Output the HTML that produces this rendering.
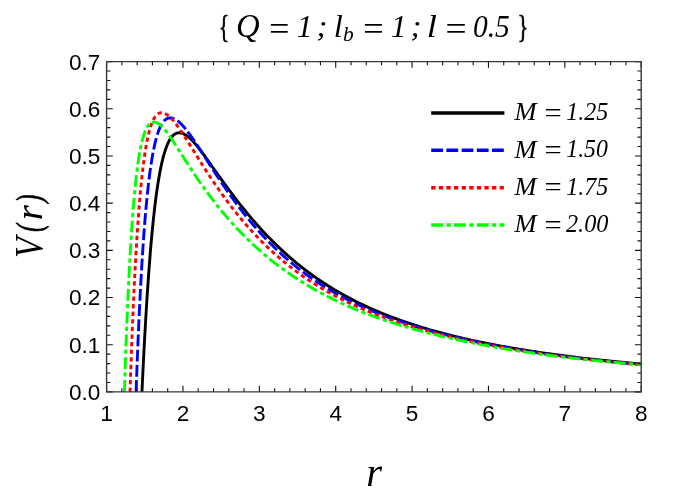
<!DOCTYPE html>
<html><head><meta charset="utf-8"><title>V(r)</title>
<style>
html,body{margin:0;padding:0;background:#fff;}
body{width:686px;height:499px;overflow:hidden;font-family:"Liberation Sans",sans-serif;}
svg{display:block;will-change:transform;}
.tk{font-family:"Liberation Sans",sans-serif;font-size:22.6px;fill:#000;}
.it{font-family:"Liberation Serif",serif;font-style:italic;fill:#000;}
</style></head><body>
<svg width="686" height="499" viewBox="0 0 686 499">
<rect width="686" height="499" fill="#fff"/>
<defs><clipPath id="cp"><rect x="106.6" y="61.6" width="534.6" height="330.3"/></clipPath></defs>
<g clip-path="url(#cp)" fill="none" stroke-width="2.9" stroke-linejoin="round">
<path d="M141.96 391.90L142.51 380.14L143.06 368.75L143.61 357.75L144.16 347.13L144.71 336.87L145.27 326.99L145.82 317.46L146.37 308.28L146.93 299.45L147.48 290.95L148.04 282.78L148.59 274.94L149.15 267.40L149.70 260.18L150.26 253.24L150.81 246.60L151.37 240.23L151.93 234.14L152.49 228.31L153.05 222.73L153.60 217.40L154.16 212.31L154.72 207.45L155.28 202.81L155.84 198.39L156.40 194.18L156.96 190.17L157.53 186.35L158.09 182.72L158.65 179.27L159.21 176.00L159.77 172.89L160.34 169.94L160.90 167.16L161.46 164.52L162.03 162.03L162.59 159.67L163.15 157.45L163.72 155.36L164.28 153.39L164.84 151.55L165.41 149.81L165.97 148.19L166.53 146.67L167.09 145.26L167.65 143.94L168.22 142.71L168.78 141.58L169.34 140.53L169.90 139.56L170.46 138.67L171.02 137.86L171.58 137.12L172.14 136.45L172.69 135.85L173.25 135.30L173.80 134.82L174.36 134.40L174.91 134.03L175.47 133.71L176.02 133.44L176.57 133.23L177.12 133.05L177.67 132.92L178.22 132.83L178.77 132.79L179.32 132.77L179.86 132.80L180.41 132.86L180.95 132.95L181.49 133.08L182.04 133.23L182.58 133.41L183.12 133.62L183.66 133.86L184.20 134.12L184.73 134.41L185.27 134.71L185.81 135.05L186.34 135.40L186.88 135.77L187.41 136.17L187.95 136.58L188.48 137.01L189.01 137.46L189.54 137.92L190.08 138.40L190.61 138.90L191.14 139.41L191.67 139.94L192.20 140.48L192.73 141.04L193.26 141.60L193.79 142.18L194.32 142.78L194.85 143.38L195.38 143.99L195.91 144.62L196.44 145.25L196.97 145.90L197.50 146.55L198.03 147.21L198.56 147.88L199.09 148.56L199.62 149.25L200.15 149.94L200.68 150.64L201.22 151.34L201.75 152.05L202.28 152.77L202.81 153.49L203.35 154.21L203.88 154.94L204.42 155.67L204.95 156.41L205.49 157.15L206.02 157.90L206.56 158.64L207.09 159.39L207.63 160.14L208.17 160.90L208.71 161.65L209.24 162.41L209.78 163.17L210.32 163.93L210.86 164.69L211.40 165.46L211.94 166.22L212.48 166.98L213.02 167.75L213.56 168.51L214.10 169.28L214.64 170.04L215.19 170.81L215.73 171.58L216.27 172.34L216.81 173.11L217.36 173.87L217.90 174.63L218.44 175.40L218.99 176.16L219.53 176.92L220.08 177.68L220.62 178.44L221.16 179.20L221.71 179.96L222.25 180.72L222.80 181.47L223.34 182.23L223.89 182.98L224.43 183.73L224.98 184.48L225.53 185.23L226.07 185.97L226.62 186.72L227.16 187.46L227.71 188.20L228.25 188.94L228.80 189.68L232.58 194.73L236.36 199.69L240.15 204.54L243.93 209.27L247.71 213.89L251.50 218.39L255.28 222.77L259.06 227.02L262.85 231.16L266.63 235.18L270.41 239.09L274.20 242.88L277.98 246.55L281.76 250.11L285.55 253.57L289.33 256.92L293.11 260.17L296.90 263.32L300.68 266.37L304.47 269.32L308.25 272.18L312.03 274.96L315.82 277.65L319.60 280.25L323.38 282.77L327.17 285.22L330.95 287.59L334.73 289.88L338.52 292.11L342.30 294.26L346.08 296.35L349.87 298.38L353.65 300.34L357.43 302.25L361.22 304.09L365.00 305.89L368.79 307.62L372.57 309.31L376.35 310.94L380.14 312.53L383.92 314.07L387.70 315.57L391.49 317.02L395.27 318.43L399.05 319.80L402.84 321.14L406.62 322.45L410.40 323.71L414.19 324.95L417.97 326.15L421.75 327.31L425.54 328.45L429.32 329.55L433.11 330.63L436.89 331.67L440.67 332.69L444.46 333.68L448.24 334.65L452.02 335.60L455.81 336.54L459.59 337.46L463.37 338.35L467.16 339.22L470.94 340.07L474.72 340.90L478.51 341.70L482.29 342.49L486.07 343.25L489.86 343.99L493.64 344.71L497.43 345.42L501.21 346.11L504.99 346.80L508.78 347.47L512.56 348.13L516.34 348.78L520.13 349.41L523.91 350.02L527.69 350.63L531.48 351.22L535.26 351.79L539.04 352.36L542.83 352.92L546.61 353.46L550.40 353.99L554.18 354.51L557.96 355.03L561.75 355.53L565.53 356.01L569.31 356.49L573.10 356.96L576.88 357.43L580.66 357.88L584.45 358.32L588.23 358.76L592.01 359.19L595.80 359.61L599.58 360.02L603.36 360.42L607.15 360.81L610.93 361.19L614.72 361.56L618.50 361.93L622.28 362.29L626.07 362.65L629.85 363.00L633.63 363.34L637.42 363.68L641.20 364.01" stroke="#000"/>
<path d="M136.10 391.90L136.68 375.54L137.27 360.09L137.85 345.48L138.43 331.67L139.01 318.62L139.60 306.28L140.18 294.62L140.76 283.60L141.35 273.18L141.93 263.33L142.51 254.02L143.10 245.23L143.68 236.92L144.26 229.07L144.84 221.65L145.43 214.65L146.01 208.04L146.59 201.80L147.18 195.90L147.76 190.35L148.34 185.11L148.93 180.17L149.51 175.51L150.09 171.13L150.67 167.00L151.26 163.12L151.84 159.48L152.42 156.05L153.01 152.83L153.59 149.82L154.17 147.00L154.76 144.35L155.34 141.88L155.92 139.58L156.50 137.43L157.09 135.44L157.67 133.58L158.25 131.87L158.84 130.28L159.42 128.81L160.00 127.47L160.59 126.23L161.17 125.10L161.75 124.08L162.33 123.15L162.92 122.31L163.50 121.56L164.08 120.89L164.67 120.31L165.25 119.79L165.83 119.35L166.42 118.97L167.00 118.65L167.58 118.40L168.16 118.20L168.75 118.05L169.33 117.96L169.91 117.91L170.50 117.91L171.08 117.95L171.66 118.04L172.24 118.16L172.83 118.32L173.41 118.52L173.99 118.75L174.58 119.01L175.16 119.31L175.74 119.63L176.33 119.99L176.91 120.38L177.49 120.79L178.07 121.23L178.66 121.70L179.24 122.19L179.82 122.71L180.41 123.25L180.99 123.81L181.57 124.40L182.16 125.00L182.74 125.63L183.32 126.27L183.90 126.93L184.49 127.61L185.07 128.31L185.65 129.02L186.24 129.75L186.82 130.49L187.40 131.24L187.99 132.01L188.57 132.78L189.15 133.57L189.73 134.37L190.32 135.17L190.90 135.99L191.48 136.81L192.07 137.65L192.65 138.49L193.23 139.33L193.82 140.18L194.40 141.04L194.98 141.91L195.56 142.78L196.15 143.65L196.73 144.53L197.31 145.41L197.90 146.29L198.48 147.18L199.06 148.07L199.65 148.97L200.23 149.86L200.81 150.76L201.39 151.66L201.98 152.56L202.56 153.47L203.14 154.37L203.73 155.28L204.31 156.19L204.89 157.09L205.47 158.00L206.06 158.91L206.64 159.82L207.22 160.72L207.81 161.63L208.39 162.54L208.97 163.44L209.56 164.35L210.14 165.26L210.72 166.16L211.30 167.06L211.89 167.96L212.47 168.86L213.05 169.76L213.64 170.66L214.22 171.55L214.80 172.45L215.39 173.34L215.97 174.23L216.55 175.12L217.13 176.00L217.72 176.88L218.30 177.77L218.88 178.64L219.47 179.52L220.05 180.39L220.63 181.26L221.22 182.13L221.80 183.00L222.38 183.86L222.96 184.72L223.55 185.58L224.13 186.43L224.71 187.28L225.30 188.13L225.88 188.98L226.46 189.82L227.05 190.66L227.63 191.50L228.21 192.33L228.79 193.16L232.58 198.47L236.36 203.63L240.14 208.65L243.93 213.53L247.71 218.25L251.50 222.83L255.28 227.26L259.06 231.55L262.85 235.70L266.63 239.71L270.41 243.58L274.20 247.33L277.98 250.95L281.76 254.45L285.55 257.83L289.33 261.10L293.11 264.25L296.90 267.30L300.68 270.25L304.47 273.10L308.25 275.85L312.03 278.52L315.82 281.09L319.60 283.58L323.38 285.99L327.17 288.32L330.95 290.58L334.73 292.76L338.52 294.88L342.30 296.93L346.08 298.91L349.87 300.83L353.65 302.70L357.43 304.50L361.22 306.25L365.00 307.95L368.79 309.60L372.57 311.20L376.35 312.75L380.14 314.26L383.92 315.73L387.70 317.15L391.49 318.53L395.27 319.87L399.05 321.18L402.84 322.46L406.62 323.70L410.40 324.92L414.19 326.10L417.97 327.25L421.75 328.36L425.54 329.45L429.32 330.52L433.11 331.55L436.89 332.56L440.67 333.54L444.46 334.50L448.24 335.44L452.02 336.36L455.81 337.27L459.59 338.16L463.37 339.03L467.16 339.87L470.94 340.70L474.72 341.51L478.51 342.30L482.29 343.07L486.07 343.82L489.86 344.54L493.64 345.26L497.43 345.95L501.21 346.64L504.99 347.32L508.78 347.98L512.56 348.63L516.34 349.27L520.13 349.90L523.91 350.51L527.69 351.11L531.48 351.70L535.26 352.27L539.04 352.84L542.83 353.39L546.61 353.94L550.40 354.47L554.18 354.99L557.96 355.51L561.75 356.01L565.53 356.50L569.31 356.98L573.10 357.46L576.88 357.92L580.66 358.38L584.45 358.83L588.23 359.27L592.01 359.70L595.80 360.13L599.58 360.55L603.36 360.95L607.15 361.35L610.93 361.73L614.72 362.11L618.50 362.49L622.28 362.86L626.07 363.22L629.85 363.58L633.63 363.93L637.42 364.27L641.20 364.61" stroke="#0000ff" stroke-dasharray="11.8 3.4"/>
<path d="M130.02 391.90L130.64 373.47L131.27 356.09L131.89 339.71L132.51 324.28L133.13 309.73L133.75 296.04L134.37 283.15L134.99 271.02L135.61 259.62L136.24 248.90L136.86 238.82L137.48 229.36L138.10 220.47L138.72 212.14L139.34 204.32L139.96 196.99L140.58 190.13L141.21 183.71L141.83 177.71L142.45 172.10L143.07 166.86L143.69 161.98L144.31 157.43L144.93 153.20L145.55 149.27L146.17 145.62L146.80 142.23L147.42 139.11L148.04 136.22L148.66 133.56L149.28 131.11L149.90 128.87L150.52 126.83L151.14 124.96L151.77 123.27L152.39 121.73L153.01 120.35L153.63 119.12L154.25 118.02L154.87 117.05L155.49 116.20L156.11 115.46L156.74 114.82L157.36 114.28L157.98 113.84L158.60 113.48L159.22 113.20L159.84 112.99L160.46 112.85L161.08 112.78L161.70 112.77L162.33 112.82L162.95 112.93L163.57 113.08L164.19 113.28L164.81 113.53L165.43 113.82L166.05 114.15L166.67 114.53L167.30 114.94L167.92 115.39L168.54 115.87L169.16 116.39L169.78 116.94L170.40 117.53L171.02 118.14L171.64 118.78L172.27 119.45L172.89 120.15L173.51 120.87L174.13 121.61L174.75 122.38L175.37 123.16L175.99 123.97L176.61 124.79L177.23 125.64L177.86 126.49L178.48 127.36L179.10 128.25L179.72 129.15L180.34 130.05L180.96 130.97L181.58 131.90L182.20 132.84L182.83 133.78L183.45 134.73L184.07 135.69L184.69 136.66L185.31 137.63L185.93 138.60L186.55 139.58L187.17 140.56L187.80 141.55L188.42 142.54L189.04 143.53L189.66 144.52L190.28 145.52L190.90 146.51L191.52 147.51L192.14 148.51L192.76 149.51L193.39 150.50L194.01 151.50L194.63 152.50L195.25 153.50L195.87 154.50L196.49 155.49L197.11 156.49L197.73 157.48L198.36 158.47L198.98 159.47L199.60 160.45L200.22 161.44L200.84 162.43L201.46 163.41L202.08 164.39L202.70 165.37L203.33 166.34L203.95 167.32L204.57 168.29L205.19 169.26L205.81 170.22L206.43 171.18L207.05 172.14L207.67 173.10L208.29 174.05L208.92 175.00L209.54 175.94L210.16 176.88L210.78 177.82L211.40 178.76L212.02 179.69L212.64 180.62L213.26 181.54L213.89 182.46L214.51 183.38L215.13 184.29L215.75 185.20L216.37 186.10L216.99 187.01L217.61 187.90L218.23 188.80L218.86 189.69L219.48 190.57L220.10 191.45L220.72 192.33L221.34 193.21L221.96 194.08L222.58 194.94L223.20 195.80L223.82 196.66L224.45 197.52L225.07 198.36L225.69 199.21L226.31 200.05L226.93 200.89L227.55 201.72L228.17 202.55L228.79 203.38L232.58 208.32L236.36 213.11L240.14 217.75L243.93 222.24L247.71 226.60L251.50 230.81L255.28 234.89L259.06 238.83L262.85 242.65L266.63 246.34L270.41 249.91L274.20 253.37L277.98 256.71L281.76 259.94L285.55 263.07L289.33 266.10L293.11 269.02L296.90 271.86L300.68 274.60L304.47 277.25L308.25 279.82L312.03 282.31L315.82 284.72L319.60 287.05L323.38 289.31L327.17 291.50L330.95 293.62L334.73 295.68L338.52 297.67L342.30 299.61L346.08 301.48L349.87 303.30L353.65 305.07L357.43 306.78L361.22 308.45L365.00 310.06L368.79 311.63L372.57 313.15L376.35 314.63L380.14 316.07L383.92 317.47L387.70 318.83L391.49 320.15L395.27 321.44L399.05 322.69L402.84 323.91L406.62 325.11L410.40 326.28L414.19 327.41L417.97 328.52L421.75 329.59L425.54 330.64L429.32 331.67L433.11 332.66L436.89 333.64L440.67 334.59L444.46 335.51L448.24 336.41L452.02 337.31L455.81 338.19L459.59 339.05L463.37 339.89L467.16 340.71L470.94 341.52L474.72 342.30L478.51 343.07L482.29 343.81L486.07 344.54L489.86 345.24L493.64 345.93L497.43 346.61L501.21 347.28L504.99 347.94L508.78 348.59L512.56 349.22L516.34 349.84L520.13 350.45L523.91 351.05L527.69 351.63L531.48 352.20L535.26 352.77L539.04 353.32L542.83 353.86L546.61 354.39L550.40 354.91L554.18 355.42L557.96 355.92L561.75 356.41L565.53 356.89L569.31 357.36L573.10 357.83L576.88 358.28L580.66 358.73L584.45 359.17L588.23 359.60L592.01 360.02L595.80 360.44L599.58 360.85L603.36 361.24L607.15 361.63L610.93 362.01L614.72 362.38L618.50 362.75L622.28 363.11L626.07 363.46L629.85 363.81L633.63 364.15L637.42 364.49L641.20 364.82" stroke="#ff0000" stroke-dasharray="4.3 3.3"/>
<path d="M124.42 391.90L125.08 371.56L125.74 352.54L126.40 334.75L127.06 318.13L127.72 302.61L128.39 288.12L129.05 274.60L129.71 261.99L130.38 250.25L131.04 239.32L131.71 229.15L132.37 219.70L133.04 210.91L133.71 202.76L134.38 195.20L135.05 188.20L135.72 181.73L136.39 175.74L137.07 170.22L137.74 165.12L138.41 160.44L139.09 156.14L139.77 152.19L140.44 148.59L141.12 145.30L141.80 142.30L142.47 139.58L143.15 137.13L143.83 134.91L144.51 132.93L145.18 131.16L145.86 129.59L146.54 128.21L147.21 127.00L147.89 125.96L148.56 125.06L149.23 124.31L149.90 123.69L150.57 123.18L151.24 122.79L151.90 122.49L152.57 122.30L153.23 122.19L153.89 122.15L154.55 122.20L155.20 122.31L155.85 122.48L156.51 122.72L157.16 123.00L157.80 123.34L158.45 123.73L159.10 124.16L159.74 124.63L160.38 125.15L161.02 125.70L161.66 126.29L162.30 126.91L162.93 127.57L163.57 128.26L164.21 128.98L164.84 129.72L165.48 130.50L166.11 131.30L166.75 132.12L167.38 132.97L168.02 133.83L168.66 134.72L169.29 135.62L169.93 136.54L170.57 137.47L171.21 138.42L171.85 139.38L172.49 140.34L173.13 141.32L173.78 142.31L174.42 143.30L175.06 144.30L175.71 145.30L176.36 146.31L177.00 147.33L177.65 148.34L178.30 149.36L178.95 150.38L179.60 151.41L180.25 152.43L180.90 153.45L181.55 154.48L182.20 155.50L182.86 156.53L183.51 157.55L184.16 158.57L184.82 159.59L185.47 160.61L186.13 161.63L186.78 162.64L187.44 163.65L188.09 164.66L188.75 165.67L189.40 166.67L190.06 167.67L190.72 168.67L191.37 169.66L192.03 170.66L192.68 171.64L193.34 172.63L194.00 173.61L194.65 174.58L195.31 175.56L195.97 176.52L196.62 177.49L197.28 178.45L197.94 179.41L198.59 180.36L199.25 181.31L199.91 182.25L200.56 183.19L201.22 184.12L201.88 185.05L202.53 185.98L203.19 186.90L203.84 187.82L204.50 188.73L205.16 189.64L205.81 190.55L206.47 191.45L207.13 192.34L207.78 193.23L208.44 194.12L209.10 195.00L209.75 195.88L210.41 196.75L211.07 197.62L211.72 198.48L212.38 199.34L213.04 200.19L213.69 201.05L214.35 201.89L215.01 202.73L215.66 203.57L216.32 204.40L216.98 205.23L217.63 206.05L218.29 206.87L218.95 207.69L219.60 208.50L220.26 209.30L220.92 210.11L221.57 210.90L222.23 211.70L222.89 212.49L223.54 213.27L224.20 214.05L224.85 214.83L225.51 215.60L226.17 216.37L226.82 217.13L227.48 217.89L228.14 218.65L228.79 219.40L232.58 223.65L236.36 227.77L240.14 231.76L243.93 235.62L247.71 239.37L251.50 243.00L255.28 246.51L259.06 249.92L262.85 253.22L266.63 256.42L270.41 259.52L274.20 262.53L277.98 265.44L281.76 268.26L285.55 271.00L289.33 273.66L293.11 276.24L296.90 278.73L300.68 281.16L304.47 283.51L308.25 285.79L312.03 288.01L315.82 290.16L319.60 292.24L323.38 294.27L327.17 296.24L330.95 298.15L334.73 300.01L338.52 301.82L342.30 303.57L346.08 305.28L349.87 306.94L353.65 308.55L357.43 310.12L361.22 311.64L365.00 313.13L368.79 314.57L372.57 315.98L376.35 317.35L380.14 318.68L383.92 319.98L387.70 321.24L391.49 322.47L395.27 323.67L399.05 324.84L402.84 325.99L406.62 327.11L410.40 328.20L414.19 329.27L417.97 330.31L421.75 331.32L425.54 332.31L429.32 333.27L433.11 334.22L436.89 335.14L440.67 336.04L444.46 336.92L448.24 337.77L452.02 338.62L455.81 339.46L459.59 340.28L463.37 341.08L467.16 341.86L470.94 342.63L474.72 343.38L478.51 344.12L482.29 344.84L486.07 345.54L489.86 346.24L493.64 346.92L497.43 347.58L501.21 348.23L504.99 348.85L508.78 349.47L512.56 350.07L516.34 350.66L520.13 351.23L523.91 351.80L527.69 352.35L531.48 352.90L535.26 353.43L539.04 353.95L542.83 354.47L546.61 354.97L550.40 355.46L554.18 355.95L557.96 356.42L561.75 356.88L565.53 357.33L569.31 357.76L573.10 358.19L576.88 358.61L580.66 359.02L584.45 359.42L588.23 359.82L592.01 360.21L595.80 360.59L599.58 360.96L603.36 361.33L607.15 361.69L610.93 362.04L614.72 362.38L618.50 362.72L622.28 363.05L626.07 363.38L629.85 363.70L633.63 364.02L637.42 364.33L641.20 364.64" stroke="#00ff00" stroke-dasharray="11.9 3.5 4.2 3.2"/>
</g>
<path d="M106.60 391.9v-6.2M106.60 61.6v6.2M121.87 391.9v-3.7M121.87 61.6v3.7M137.15 391.9v-3.7M137.15 61.6v3.7M152.42 391.9v-3.7M152.42 61.6v3.7M167.70 391.9v-3.7M167.70 61.6v3.7M182.97 391.9v-6.2M182.97 61.6v6.2M198.25 391.9v-3.7M198.25 61.6v3.7M213.52 391.9v-3.7M213.52 61.6v3.7M228.79 391.9v-3.7M228.79 61.6v3.7M244.07 391.9v-3.7M244.07 61.6v3.7M259.34 391.9v-6.2M259.34 61.6v6.2M274.62 391.9v-3.7M274.62 61.6v3.7M289.89 391.9v-3.7M289.89 61.6v3.7M305.17 391.9v-3.7M305.17 61.6v3.7M320.44 391.9v-3.7M320.44 61.6v3.7M335.71 391.9v-6.2M335.71 61.6v6.2M350.99 391.9v-3.7M350.99 61.6v3.7M366.26 391.9v-3.7M366.26 61.6v3.7M381.54 391.9v-3.7M381.54 61.6v3.7M396.81 391.9v-3.7M396.81 61.6v3.7M412.09 391.9v-6.2M412.09 61.6v6.2M427.36 391.9v-3.7M427.36 61.6v3.7M442.63 391.9v-3.7M442.63 61.6v3.7M457.91 391.9v-3.7M457.91 61.6v3.7M473.18 391.9v-3.7M473.18 61.6v3.7M488.46 391.9v-6.2M488.46 61.6v6.2M503.73 391.9v-3.7M503.73 61.6v3.7M519.01 391.9v-3.7M519.01 61.6v3.7M534.28 391.9v-3.7M534.28 61.6v3.7M549.55 391.9v-3.7M549.55 61.6v3.7M564.83 391.9v-6.2M564.83 61.6v6.2M580.10 391.9v-3.7M580.10 61.6v3.7M595.38 391.9v-3.7M595.38 61.6v3.7M610.65 391.9v-3.7M610.65 61.6v3.7M625.93 391.9v-3.7M625.93 61.6v3.7M641.20 391.9v-6.2M641.20 61.6v6.2M106.6 391.90h6.2M641.2 391.90h-6.2M106.6 382.46h3.7M641.2 382.46h-3.7M106.6 373.03h3.7M641.2 373.03h-3.7M106.6 363.59h3.7M641.2 363.59h-3.7M106.6 354.15h3.7M641.2 354.15h-3.7M106.6 344.71h6.2M641.2 344.71h-6.2M106.6 335.28h3.7M641.2 335.28h-3.7M106.6 325.84h3.7M641.2 325.84h-3.7M106.6 316.40h3.7M641.2 316.40h-3.7M106.6 306.97h3.7M641.2 306.97h-3.7M106.6 297.53h6.2M641.2 297.53h-6.2M106.6 288.09h3.7M641.2 288.09h-3.7M106.6 278.65h3.7M641.2 278.65h-3.7M106.6 269.22h3.7M641.2 269.22h-3.7M106.6 259.78h3.7M641.2 259.78h-3.7M106.6 250.34h6.2M641.2 250.34h-6.2M106.6 240.91h3.7M641.2 240.91h-3.7M106.6 231.47h3.7M641.2 231.47h-3.7M106.6 222.03h3.7M641.2 222.03h-3.7M106.6 212.59h3.7M641.2 212.59h-3.7M106.6 203.16h6.2M641.2 203.16h-6.2M106.6 193.72h3.7M641.2 193.72h-3.7M106.6 184.28h3.7M641.2 184.28h-3.7M106.6 174.85h3.7M641.2 174.85h-3.7M106.6 165.41h3.7M641.2 165.41h-3.7M106.6 155.97h6.2M641.2 155.97h-6.2M106.6 146.53h3.7M641.2 146.53h-3.7M106.6 137.10h3.7M641.2 137.10h-3.7M106.6 127.66h3.7M641.2 127.66h-3.7M106.6 118.22h3.7M641.2 118.22h-3.7M106.6 108.79h6.2M641.2 108.79h-6.2M106.6 99.35h3.7M641.2 99.35h-3.7M106.6 89.91h3.7M641.2 89.91h-3.7M106.6 80.47h3.7M641.2 80.47h-3.7M106.6 71.04h3.7M641.2 71.04h-3.7M106.6 61.60h6.2M641.2 61.60h-6.2" fill="none" stroke="#111" stroke-width="1.1"/>
<path d="M106.6 61.6H641.2V391.9H106.6Z" fill="none" stroke="#383838" stroke-width="1.4"/>
<text class="tk" x="106.6" y="421" text-anchor="middle">1</text>
<text class="tk" x="183.0" y="421" text-anchor="middle">2</text>
<text class="tk" x="259.3" y="421" text-anchor="middle">3</text>
<text class="tk" x="335.7" y="421" text-anchor="middle">4</text>
<text class="tk" x="412.1" y="421" text-anchor="middle">5</text>
<text class="tk" x="488.5" y="421" text-anchor="middle">6</text>
<text class="tk" x="564.8" y="421" text-anchor="middle">7</text>
<text class="tk" x="641.2" y="421" text-anchor="middle">8</text>
<text class="tk" x="100.4" y="399.8" text-anchor="end">0.0</text>
<text class="tk" x="100.4" y="352.6" text-anchor="end">0.1</text>
<text class="tk" x="100.4" y="305.4" text-anchor="end">0.2</text>
<text class="tk" x="100.4" y="258.2" text-anchor="end">0.3</text>
<text class="tk" x="100.4" y="211.1" text-anchor="end">0.4</text>
<text class="tk" x="100.4" y="163.9" text-anchor="end">0.5</text>
<text class="tk" x="100.4" y="116.7" text-anchor="end">0.6</text>
<text class="tk" x="100.4" y="69.5" text-anchor="end">0.7</text>
<path d="M431.2 113H504.4" stroke="#000" stroke-width="3.6" fill="none"/>
<text class="it" font-size="25" transform="translate(514.57 120.20) scale(1.061 1.009)">M</text>
<text class="it" font-size="25" transform="translate(542.53 121.74) scale(1.226 1.056)">=</text>
<text class="it" font-size="25" transform="translate(566.24 120.25) scale(0.962 0.991)">1.25</text>
<path d="M431.2 150.3H504.4" stroke="#0000ff" stroke-width="3.6" fill="none" stroke-dasharray="11.8 3.4"/>
<text class="it" font-size="25" transform="translate(514.57 157.50) scale(1.061 1.009)">M</text>
<text class="it" font-size="25" transform="translate(542.53 159.04) scale(1.226 1.056)">=</text>
<text class="it" font-size="25" transform="translate(566.25 157.31) scale(0.951 0.976)">1.50</text>
<path d="M431.2 187.7H504.4" stroke="#ff0000" stroke-width="3.6" fill="none" stroke-dasharray="4.3 3.3"/>
<text class="it" font-size="25" transform="translate(514.57 194.90) scale(1.061 1.009)">M</text>
<text class="it" font-size="25" transform="translate(542.53 196.44) scale(1.226 1.056)">=</text>
<text class="it" font-size="25" transform="translate(566.24 194.95) scale(0.962 0.991)">1.75</text>
<path d="M431.2 225H504.4" stroke="#00ff00" stroke-width="3.6" fill="none" stroke-dasharray="11.9 3.5 4.2 3.2"/>
<text class="it" font-size="25" transform="translate(514.57 232.20) scale(1.061 1.009)">M</text>
<text class="it" font-size="25" transform="translate(542.53 233.74) scale(1.226 1.056)">=</text>
<text class="it" font-size="25" transform="translate(566.00 232.00) scale(0.970 0.991)">2.00</text>
<text class="it" font-size="31" style="font-style:normal" stroke="#000" stroke-width="0.6" transform="translate(218.72 38.09) scale(0.710 1.019)">{</text>
<text class="it" font-size="31" transform="translate(236.03 37.22) scale(1.058 1.058)">Q</text>
<text class="it" font-size="31" transform="translate(266.82 39.97) scale(1.167 1.071)">=</text>
<text class="it" font-size="31" transform="translate(360.77 39.97) scale(1.181 1.071)">=</text>
<text class="it" font-size="31" transform="translate(443.06 39.97) scale(1.215 1.071)">=</text>
<text class="it" font-size="31" transform="translate(296.63 36.90) scale(1.023 0.997)">1</text>
<text class="it" font-size="31" transform="translate(390.63 36.90) scale(1.023 0.997)">1</text>
<text class="it" font-size="31" transform="translate(316.56 36.30) scale(1.056 0.968)">;</text>
<text class="it" font-size="31" transform="translate(410.54 36.30) scale(1.070 0.968)">;</text>
<text class="it" font-size="31" transform="translate(333.68 36.90) scale(1.048 1.014)">l</text>
<text class="it" font-size="31" transform="translate(426.78 36.90) scale(1.177 1.014)">l</text>
<text class="it" font-size="21" transform="translate(342.94 40.69) scale(1.019 0.986)">b</text>
<text class="it" font-size="31" transform="translate(472.92 36.57) scale(0.951 1.016)">0.5</text>
<text class="it" font-size="31" style="font-style:normal" stroke="#000" stroke-width="0.6" transform="translate(517.56 38.09) scale(0.731 1.019)">}</text>
<text class="it" font-size="40" transform="rotate(-90) translate(-258.10 41.90) scale(0.852 1.000)">V</text>
<text class="it" font-size="40" stroke="#000" stroke-width="0.9" transform="rotate(-90) translate(-231.83 40.65) scale(0.581 0.875)">(</text>
<text class="it" font-size="40" transform="rotate(-90) translate(-220.25 42.20) scale(0.971 0.952)">r</text>
<text class="it" font-size="40" stroke="#000" stroke-width="0.9" transform="rotate(-90) translate(-202.40 40.65) scale(0.600 0.875)">)</text>
<text class="it" font-size="40" transform="translate(366.18 485.50) scale(1.014 0.984)">r</text>
</svg></body></html>
